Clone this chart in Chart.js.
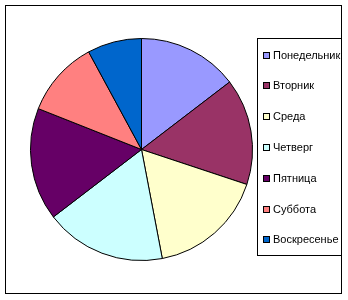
<!DOCTYPE html>
<html>
<head>
<meta charset="utf-8">
<script src="https://cdn.jsdelivr.net/npm/chart.js@4/dist/chart.umd.min.js"></script>
<style>
  html, body { margin: 0; padding: 0; background: #fff; }
  #wrap { position: relative; width: 348px; height: 300px; }
</style>
</head>
<body>
<div id="wrap"><canvas id="myChart"></canvas></div>
<script>
const days = ['Понедельник', 'Вторник', 'Среда', 'Четверг', 'Пятница', 'Суббота', 'Воскресенье'];
const values = [14.6, 15.5, 16.9, 17.6, 16.4, 11.1, 7.9];
const colors = ['#9999FF', '#993366', '#FFFFCC', '#CCFFFF', '#660066', '#FF8080', '#0066CC'];

// frame round the whole chart plus the boxed legend on the right
const framePlugin = {
  id: 'frame',
  afterDraw(chart) {
    const ctx = chart.ctx;
    ctx.save();
    ctx.strokeStyle = '#000';
    ctx.lineWidth = 1;
    ctx.strokeRect(5.5, 5.5, 336, 288);
    ctx.strokeRect(257.5, 38.5, 84, 217);

    const ds = chart.data.datasets[0];
    ctx.font = '11px "Liberation Sans", Arial, sans-serif';
    ctx.textBaseline = 'middle';
    chart.data.labels.forEach((label, i) => {
      const y = Math.round(54.5 + i * 30.8);
      ctx.fillStyle = ds.backgroundColor[i];
      ctx.fillRect(263, y - 3, 6, 6);
      ctx.strokeStyle = '#000';
      ctx.strokeRect(263.5, y - 2.5, 6, 6);
      ctx.fillStyle = '#000';
      ctx.fillText(label, 273, y + 0.5);
    });
    ctx.restore();
  }
};

const ctx = document.getElementById('myChart').getContext('2d');
const myPieChart = new Chart(ctx, {
  type: 'pie',
  data: {
    labels: days,
    datasets: [{
      data: values,
      backgroundColor: colors,
      borderColor: '#000',
      borderWidth: 1,
      hoverOffset: 0
    }]
  },
  options: {
    responsive: true,
    maintainAspectRatio: false,
    animation: false,
    layout: {
      padding: { left: 30, right: 95, top: 38, bottom: 39 }
    },
    plugins: {
      legend: { display: false },
      tooltip: { enabled: false }
    }
  },
  plugins: [framePlugin]
});
</script>
</body>
</html>
